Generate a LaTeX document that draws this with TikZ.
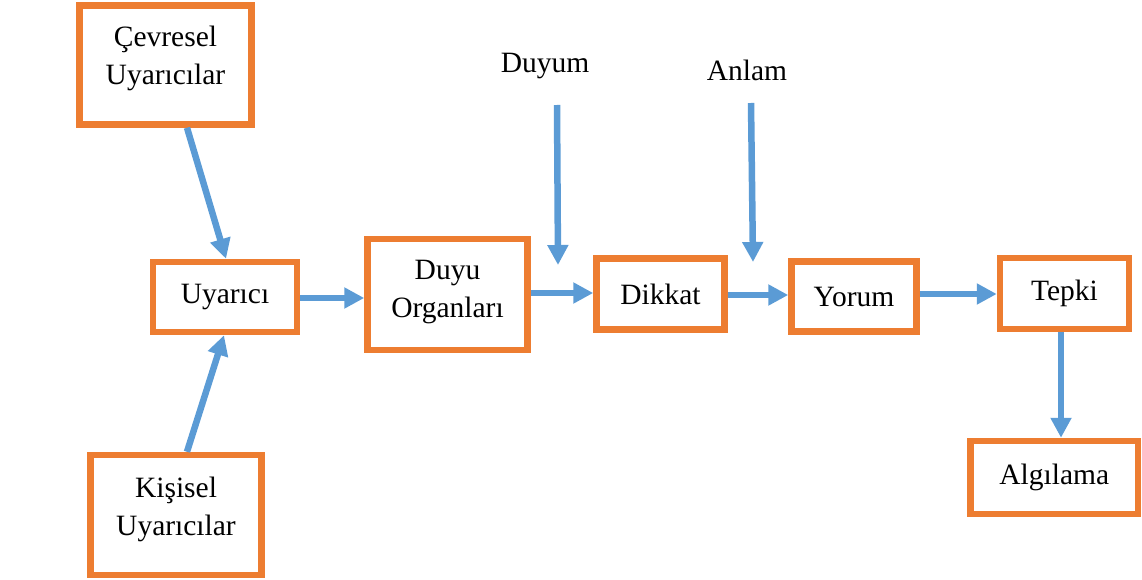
\documentclass[tikz,border=0pt]{standalone}
\usepackage{fontspec}
\setmainfont{Liberation Serif}
\usetikzlibrary{arrows.meta}
\definecolor{boxorange}{HTML}{ED7D31}
\definecolor{arrowblue}{HTML}{5B9BD5}

\begin{document}
\begin{tikzpicture}[x=1pt, y=-1pt,
  box/.style={draw=boxorange, line width=6.5pt, fill=white, align=center, inner sep=0pt,
    font=\fontsize{29.5}{38}\selectfont},
  arr/.style={arrowblue, line width=6.5pt, -{Triangle[length=20pt,width=20pt]}},
  lbl/.style={font=\fontsize{29.5}{38}\selectfont}]
\useasboundingbox (0,0) rectangle (1142,580);
\node[box, minimum width=172, minimum height=119, text depth=20] (cevresel) at (165.5,65) {Çevresel\\Uyarıcılar};
\node[box, minimum width=144, minimum height=70] (uyarici) at (225,297) {Uyarıcı};
\node[box, minimum width=171, minimum height=120, text depth=17] (kisisel) at (176,515) {Kişisel\\Uyarıcılar};
\node[box, minimum width=160, minimum height=111, text depth=11] (duyu) at (447.5,294.5) {Duyu\\Organları};
\node[box, minimum width=128, minimum height=71] (dikkat) at (660.5,294) {Dikkat};
\node[box, minimum width=125, minimum height=70] (yorum) at (854,296.5) {Yorum};
\node[box, minimum width=129, minimum height=71] (tepki) at (1064.5,293.5) {Tepki};
\node[box, minimum width=167.5, minimum height=73] (algilama) at (1054.25,477.5) {Algılama};
\node[lbl] (duyum) at (545,66) {Duyum};
\node[lbl] (anlam) at (747,70) {Anlam};
\coordinate (duyumtip) at (558,265);
\coordinate (anlamtip) at (753,262);

\draw[arr] ([xshift=21.5]cevresel.south) -- ([xshift=1]uyarici.north);
\draw[arr] ([xshift=11]kisisel.north) -- ([xshift=-1]uyarici.south);
\draw[arr] ([yshift=-1]uyarici.east) -- ([yshift=-1]uyarici.east -| duyu.west);
\draw[arr] ([yshift=1.5]duyu.east) -- ([yshift=1.5]duyu.east -| dikkat.west);
\draw[arr] ([yshift=-1]dikkat.east) -- ([yshift=-1]dikkat.east -| yorum.west);
\draw[arr] ([yshift=-0.5]yorum.east |- tepki.east) -- ([yshift=-0.5]tepki.west);
\draw[arr] ([xshift=-3.5]tepki.south) -- ([xshift=-3.5]tepki.south |- algilama.north);
\draw[arr] (duyum.south |- 0,105) ++(12,0) -- (duyumtip);
\draw[arr] (anlam.south |- 0,103) ++(4,0) -- (anlamtip);
\end{tikzpicture}
\end{document}
